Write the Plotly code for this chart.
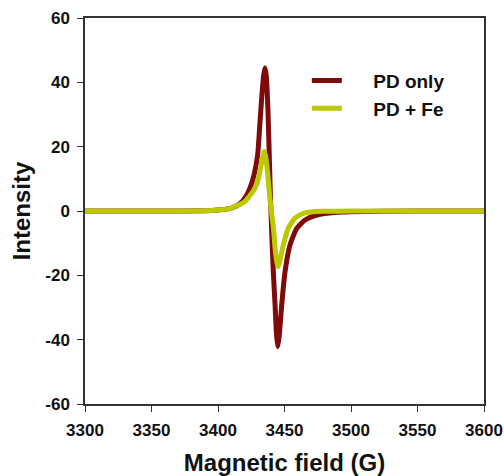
import plotly.graph_objects as go

# Magnetic field (G) and intensities
field_pd = [3300, 3350, 3390, 3400, 3405, 3410, 3414, 3418, 3421, 3424, 3427, 3429.8,
            3431.6, 3433, 3434.3, 3435.3, 3436.3, 3437.5, 3438.5, 3439.3, 3440, 3440.5,
            3441.6, 3442.9, 3444, 3444.9, 3446, 3447.9, 3450.4, 3454.1, 3459.2, 3465.4,
            3472.9, 3480, 3490, 3500, 3550, 3600]
pd_only = [0, 0, 0.1, 0.3, 0.5, 0.9, 1.6, 2.9, 4.5, 7.1, 11, 17.4,
           27.8, 36, 42, 44.5, 42, 32, 18, 6, -2, -8,
           -18.9, -29.2, -38.5, -42.2, -39, -29.2, -18.9, -10.6, -5.4, -2.8,
           -1.4, -0.8, -0.4, -0.2, 0, 0]

field_fe = [3300, 3350, 3390, 3400, 3405, 3410, 3413, 3417, 3420.3, 3424, 3427.8, 3430,
            3431.6, 3433, 3434.8, 3436, 3437.5, 3439, 3440.4, 3441.6, 3443, 3444.3,
            3445.3, 3446.5, 3449.1, 3452.9, 3457.9, 3461.7, 3465.4, 3471.4, 3480, 3500, 3600]
pd_fe = [0, 0, 0.1, 0.3, 0.5, 0.9, 1.5, 2.2, 3.0, 4.8, 7.1, 9.5,
         12.5, 15.5, 18.5, 16.5, 11, 4, -1, -5, -12, -16,
         -17.3, -15.5, -10.6, -5.3, -2.2, -1.2, -0.6, -0.2, -0.1, 0, 0]

x_ticks = [3300, 3350, 3400, 3450, 3500, 3550, 3600]
y_ticks = [-60, -40, -20, 0, 20, 40, 60]

FONT = "Arial, 'Liberation Sans', sans-serif"
RED = "#7f0a0a"
YEL = "#bcc800"
PAD = "\u00a0" * 5

fig = go.Figure()
fig.add_trace(go.Scatter(x=field_pd, y=pd_only, mode="lines", name=PAD + "PD only",
                         line=dict(color=RED, width=5, shape="spline", smoothing=0.5)))
fig.add_trace(go.Scatter(x=field_fe, y=pd_fe, mode="lines", name=PAD + "PD + Fe",
                         line=dict(color=YEL, width=5, shape="spline", smoothing=0.5)))

axis_common = dict(showline=True, linecolor="#333333", linewidth=1.5, mirror=True,
                   ticks="outside", ticklen=6, tickwidth=1.2, tickcolor="#333333",
                   showgrid=False, zeroline=False, automargin=False,
                   ticklabelstandoff=4,
                   tickfont=dict(family=FONT, size=17, color="#111111", weight="bold"))

fig.update_xaxes(range=[3300, 3600], tickvals=x_ticks, ticktext=[str(v) for v in x_ticks],
                 title=dict(text="Magnetic field (G)", standoff=17,
                            font=dict(family=FONT, size=24, color="#111111", weight="bold")),
                 **axis_common)
fig.update_yaxes(range=[-60, 60], tickvals=y_ticks, ticktext=[str(v) for v in y_ticks],
                 title=dict(text="Intensity", standoff=8,
                            font=dict(family=FONT, size=24, color="#111111", weight="bold")),
                 **axis_common)

fig.update_layout(
    width=504, height=476,
    margin=dict(l=85, r=20, t=18, b=72),
    plot_bgcolor="white", paper_bgcolor="white",
    showlegend=True,
    legend=dict(x=0.556, y=0.887, xanchor="left", yanchor="top",
                bgcolor="rgba(0,0,0,0)", borderwidth=0,
                font=dict(family=FONT, size=19, color="#111111", weight="bold"),
                itemwidth=30, tracegroupgap=0),
)

fig.write_html("out.html", config={"displayModeBar": False},
               post_script="document.body.style.margin='0';document.body.style.overflow='hidden';")
